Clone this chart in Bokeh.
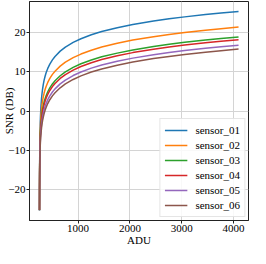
from bokeh.plotting import figure
from bokeh.models import Range1d, FixedTicker, Legend, LegendItem, InlineStyleSheet
from bokeh.embed import file_html
from bokeh.resources import INLINE

# ADU values (x) sampled along the curves
adu = [257, 258, 259, 260, 261, 263, 266, 269, 271, 272,
       276, 281, 286, 296, 306, 316, 331, 346, 366, 386,
       416, 456, 506, 556, 656, 756, 906, 1056, 1256, 1456,
       1756, 2056, 2456, 2756, 3056, 3456, 3756, 4095]

sensor_01 = [-25.20, -19.32, -15.94, -13.57, -11.77, -9.09, -6.34, -4.39, -3.35, -2.88,
             -1.31, 0.20, 1.40, 3.22, 4.57, 5.63, 6.89, 7.89, 8.96, 9.83,
             10.88, 11.98, 13.06, 13.93, 15.28, 16.30, 17.50, 18.43, 19.44, 20.25,
             21.24, 22.04, 22.93, 23.49, 23.99, 24.57, 24.96, 25.37]
sensor_02 = [-25.16, -19.49, -16.30, -14.10, -12.45, -10.04, -7.62, -5.93, -5.03, -4.64,
             -3.30, -2.02, -1.00, 0.54, 1.70, 2.62, 3.73, 4.61, 5.57, 6.35,
             7.32, 8.34, 9.36, 10.18, 11.46, 12.46, 13.62, 14.53, 15.51, 16.31,
             17.29, 18.09, 18.96, 19.52, 20.01, 20.60, 20.99, 21.39]
sensor_03 = [-25.18, -19.77, -16.78, -14.75, -13.24, -11.07, -8.89, -7.38, -6.58, -6.22,
             -5.02, -3.85, -2.93, -1.50, -0.42, 0.44, 1.49, 2.33, 3.25, 4.01,
             4.94, 5.94, 6.94, 7.74, 9.01, 9.99, 11.15, 12.06, 13.03, 13.83,
             14.77, 15.59, 16.47, 17.02, 17.52, 18.10, 18.49, 18.89]
sensor_04 = [-25.16, -19.85, -16.94, -14.97, -13.51, -11.40, -9.30, -7.83, -7.05, -6.71,
             -5.54, -4.40, -3.50, -2.10, -1.04, -0.18, 0.85, 1.68, 2.59, 3.35,
             4.28, 5.27, 6.26, 7.06, 8.33, 9.31, 10.46, 11.36, 12.34, 13.13,
             14.11, 14.90, 15.77, 16.33, 16.82, 17.40, 17.79, 18.20]
sensor_05 = [-25.19, -20.11, -17.37, -15.52, -14.16, -12.19, -10.22, -8.84, -8.10, -7.77,
             -6.66, -5.57, -4.70, -3.35, -2.32, -1.48, -0.47, 0.35, 1.25, 2.00,
             2.92, 3.90, 4.88, 5.68, 6.95, 7.92, 9.07, 9.97, 10.95, 11.74,
             12.71, 13.50, 14.38, 14.93, 15.43, 16.01, 16.40, 16.80]
sensor_06 = [-25.20, -20.33, -17.73, -15.98, -14.68, -12.82, -10.93, -9.61, -8.90, -8.58,
             -7.50, -6.44, -5.59, -4.26, -3.25, -2.42, -1.42, -0.61, 0.28, 1.02,
             1.94, 2.92, 3.90, 4.70, 5.95, 6.93, 8.07, 8.98, 9.95, 10.74,
             11.71, 12.50, 13.38, 13.93, 14.43, 15.00, 15.39, 15.80]

names = ["sensor_01", "sensor_02", "sensor_03", "sensor_04", "sensor_05", "sensor_06"]
series = [sensor_01, sensor_02, sensor_03, sensor_04, sensor_05, sensor_06]
colors = ["#1f77b4", "#ff7f0e", "#2ca02c", "#d62728", "#9467bd", "#8c564b"]

x_ticks = [1000, 2000, 3000, 4000]
y_ticks = [-20, -10, 0, 10, 20]
y_tick_labels = ["\u221220", "\u221210", "0", "10", "20"]

FONT = "Liberation Serif"
SERIF_CSS = "text, span, div { font-family: 'Liberation Serif', serif !important; }"

p = figure(width=250, height=248, output_backend="svg", toolbar_location=None,
           x_range=Range1d(64, 4287), y_range=Range1d(-27.8, 27.9),
           min_border_left=22, min_border_right=2, min_border_top=1,
           min_border_bottom=24)

p.background_fill_color = "white"
p.border_fill_color = "white"
p.outline_line_color = "#222222"
p.outline_line_width = 1

items = []
for name, ys, c in zip(names, series, colors):
    r = p.line(adu, ys, line_color=c, line_width=1.5)
    items.append(LegendItem(label=name, renderers=[r]))

p.xaxis.ticker = FixedTicker(ticks=x_ticks)
p.yaxis.ticker = FixedTicker(ticks=y_ticks)
p.yaxis.major_label_overrides = {t: l for t, l in zip(y_ticks, y_tick_labels)}

for ax in (p.xaxis[0], p.yaxis[0]):
    ax.axis_line_color = "#222222"
    ax.major_tick_line_color = "#222222"
    ax.major_tick_out = 3
    ax.major_tick_in = 0
    ax.minor_tick_line_color = None
    ax.major_label_text_font = FONT
    ax.major_label_text_font_size = "11px"
    ax.major_label_text_color = "black"
    ax.axis_label_text_font = FONT
    ax.axis_label_text_font_size = "11px"
    ax.axis_label_text_font_style = "normal"
    ax.axis_label_text_color = "black"

p.xaxis.axis_label = "ADU"
p.yaxis.axis_label = "SNR (DB)"
p.xaxis.major_label_standoff = 1
p.yaxis.major_label_standoff = 1
p.xaxis.axis_label_standoff = -1
p.yaxis.axis_label_standoff = -10

p.xgrid.grid_line_color = "#d4d4d4"
p.ygrid.grid_line_color = "#d4d4d4"
p.xgrid.grid_line_width = 1
p.ygrid.grid_line_width = 1

legend = Legend(items=items, location="bottom_right",
                label_text_font=FONT, label_text_font_size="11px",
                label_text_color="black",
                glyph_width=23, glyph_height=14, label_height=14,
                label_standoff=8, spacing=1, padding=4, margin=3,
                border_line_color="#cccccc", border_line_width=1,
                background_fill_color="white", background_fill_alpha=0.85)
p.add_layout(legend)

# make sure every text drawn in the figure uses the serif face
try:
    p.stylesheets = [InlineStyleSheet(css=SERIF_CSS)]
except Exception:
    pass
try:
    legend.stylesheets = [InlineStyleSheet(css=SERIF_CSS)]
except Exception:
    pass

open("out.html", "w").write(file_html(p, INLINE))
